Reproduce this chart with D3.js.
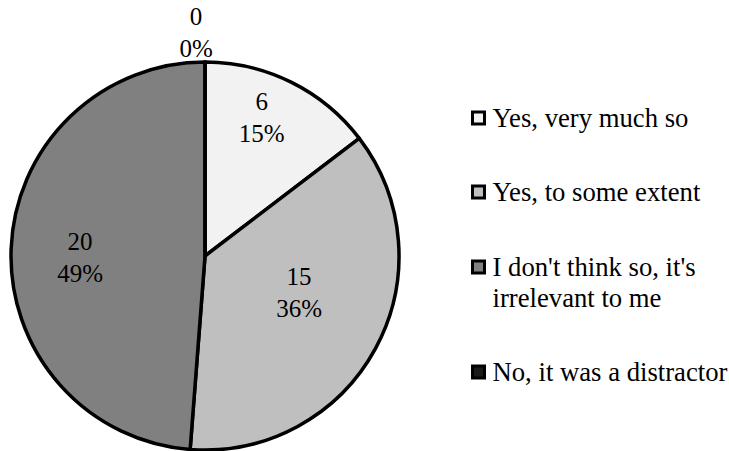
<!DOCTYPE html>
<html>
<head>
<meta charset="utf-8">
<script src="https://cdn.jsdelivr.net/npm/d3@7/dist/d3.min.js"></script>
<style>
  html, body { margin: 0; padding: 0; background: #fff; }
  svg { display: block; }
</style>
</head>
<body>
<svg id="chart" width="729" height="451"></svg>
<script>
// Survey answers and their counts
const categories = [
  "Yes, very much so",
  "Yes, to some extent",
  "I don't think so, it's irrelevant to me",
  "No, it was a distractor"
];
const counts = [6, 15, 20, 0];
const legendLines = [
  ["Yes, very much so"],
  ["Yes, to some extent"],
  ["I don't think so, it's", "irrelevant to me"],
  ["No, it was a distractor"]
];

// Slice fills, light to dark
const fills = ["#f2f2f2", "#bfbfbf", "#808080", "#1a1a1a"];
const FONT = '"Liberation Serif"';

// Label placement: radial distance (fraction of radius) and angular nudge (radians)
const labelPlace = [
  { r: 0.77, da: -0.07 },
  { r: 0.52, da: -0.13 },
  { r: 0.644, da: -0.05 },
  { r: 1.155, da: -0.04 }
];

// Whole-percent labels that add up to 100 (largest remainder)
function percentLabels(vals) {
  const total = d3.sum(vals);
  const raw = vals.map(v => v / total * 100);
  const floors = raw.map(Math.floor);
  const left = 100 - d3.sum(floors);
  const order = d3.range(vals.length).sort((a, b) => (raw[b] - floors[b]) - (raw[a] - floors[a]));
  for (let i = 0; i < left; i++) floors[order[i]] += 1;
  return floors;
}
const pct = percentLabels(counts);

const svg = d3.select("#chart");
const cx = 205, cy = 256, R = 194;

const pie = d3.pie().sort(null).value(d => d)(counts);
const arc = d3.arc().innerRadius(0).outerRadius(R);

const g = svg.append("g").attr("transform", `translate(${cx},${cy})`);

g.selectAll("path.slice")
  .data(pie)
  .join("path")
  .attr("class", "slice")
  .attr("d", arc)
  .attr("fill", (d, i) => fills[i])
  .attr("stroke", "#000")
  .attr("stroke-width", 3.5)
  .attr("stroke-linejoin", "round");

// Data labels: count on the first line, percent on the second
const labels = g.selectAll("g.lbl")
  .data(pie)
  .join("g")
  .attr("class", "lbl")
  .attr("transform", (d, i) => {
    const a = (d.startAngle + d.endAngle) / 2 + labelPlace[i].da;
    const rr = R * labelPlace[i].r;
    return `translate(${rr * Math.sin(a)},${-rr * Math.cos(a)})`;
  });

labels.append("text")
  .attr("text-anchor", "middle")
  .style("font-family", FONT)
  .style("font-size", "25px")
  .attr("y", -7.5)
  .text(d => d.data);
labels.append("text")
  .attr("text-anchor", "middle")
  .style("font-family", FONT)
  .style("font-size", "25px")
  .attr("y", 24.5)
  .text((d, i) => pct[i] + "%");

// Legend
const legend = svg.append("g").attr("transform", "translate(472.5,0)");
const rowY = [118, 192, 267, 372];
const items = legend.selectAll("g.item")
  .data(categories)
  .join("g")
  .attr("class", "item")
  .attr("transform", (d, i) => `translate(0,${rowY[i]})`);

items.append("rect")
  .attr("x", 0)
  .attr("y", -6)
  .attr("width", 12)
  .attr("height", 12)
  .attr("fill", (d, i) => fills[i])
  .attr("stroke", "#000")
  .attr("stroke-width", 3);

items.each(function (d, i) {
  const t = d3.select(this).append("text")
    .attr("y", 9)
    .style("font-family", FONT)
    .style("font-size", "26.7px")
    .style("fill", "#000");
  legendLines[i].forEach((line, k) => {
    t.append("tspan")
      .attr("x", 20)
      .attr("dy", k === 0 ? 0 : 31)
      .text(line);
  });
});
</script>
</body>
</html>
